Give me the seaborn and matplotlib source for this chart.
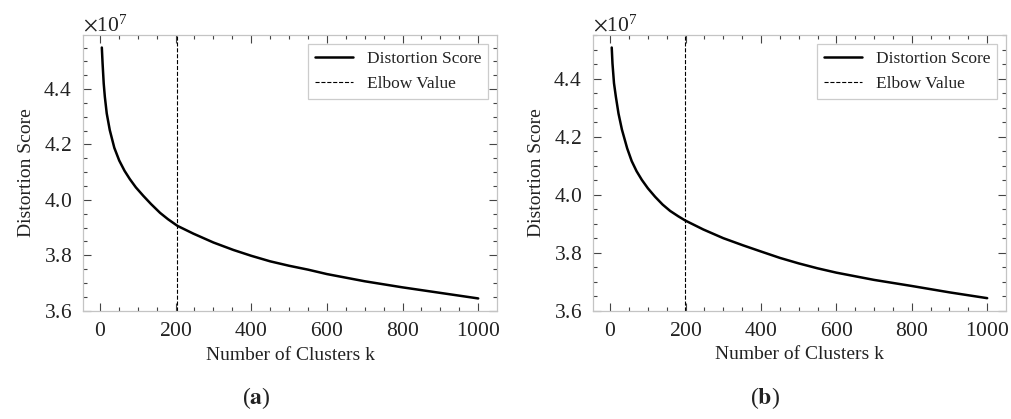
import numpy as np
import pandas as pd
import matplotlib
matplotlib.use("Agg")
import matplotlib.pyplot as plt
import seaborn as sns
from matplotlib.ticker import MultipleLocator

# values (distortion in units of 1e7)
k_a = [5, 7, 10, 13, 18, 26, 38, 51, 65, 79, 95, 115, 135, 159, 180, 205,
       247, 300, 353, 400, 450, 500, 550, 600, 700, 800, 900, 1000]
score_a = [4.550, 4.493, 4.420, 4.372, 4.312, 4.252, 4.188, 4.142, 4.105,
           4.075, 4.045, 4.014, 3.985, 3.953, 3.930, 3.906, 3.878, 3.846,
           3.819, 3.798, 3.778, 3.762, 3.748, 3.732, 3.706, 3.684, 3.664,
           3.644]
elbow_a = 205

k_b = [4, 6, 10, 15, 22, 31, 45, 57, 70, 84, 100, 119, 139, 159, 180, 199,
       247, 300, 353, 400, 450, 500, 550, 600, 700, 800, 900, 1000]
score_b = [4.508, 4.453, 4.385, 4.338, 4.280, 4.225, 4.160, 4.116, 4.081,
           4.051, 4.022, 3.993, 3.966, 3.944, 3.926, 3.911, 3.880, 3.850,
           3.825, 3.804, 3.782, 3.763, 3.746, 3.731, 3.706, 3.685, 3.663,
           3.643]
elbow_b = 199

captions = ["a", "b"]

sns.set_style("ticks")
plt.rcParams["font.family"] = ["Liberation Serif", "DejaVu Serif"]
plt.rcParams["mathtext.fontset"] = "stix"
plt.rcParams["axes.formatter.use_mathtext"] = True
plt.rcParams["text.color"] = "#222222"
plt.rcParams["axes.labelcolor"] = "#222222"
plt.rcParams["xtick.color"] = "#444444"
plt.rcParams["ytick.color"] = "#444444"
plt.rcParams["xtick.labelcolor"] = "#222222"
plt.rcParams["ytick.labelcolor"] = "#222222"

fig = plt.figure(figsize=(10.11, 4.19), dpi=100)
axes_pos = [[0.0821, 0.2578, 0.4095, 0.6587],
            [0.5865, 0.2585, 0.4085, 0.658]]
panels = [(k_a, score_a, elbow_a), (k_b, score_b, elbow_b)]

for i, (ks, scores, elbow) in enumerate(panels):
    ax = fig.add_axes(axes_pos[i])
    df = pd.DataFrame({"k": ks, "score": np.array(scores) * 1e7})
    sns.lineplot(data=df, x="k", y="score", ax=ax, color="black",
                 linewidth=1.8, label="Distortion Score")
    ax.axvline(elbow, color="black", linestyle="--", linewidth=0.8,
               label="Elbow Value")

    ax.xaxis.set_major_locator(MultipleLocator(200))
    ax.xaxis.set_minor_locator(MultipleLocator(50))
    ax.yaxis.set_major_locator(MultipleLocator(0.2e7))
    ax.yaxis.set_minor_locator(MultipleLocator(0.05e7))
    ax.tick_params(which="both", direction="in", top=True, right=True,
                   labelsize=15.5, width=0.8)
    ax.tick_params(which="major", length=6, pad=8)
    ax.tick_params(which="minor", length=3)
    ax.yaxis.get_offset_text().set_fontsize(15.5)
    for sp in ax.spines.values():
        sp.set_color("#c4c4c4")
        sp.set_linewidth(0.9)

    ax.set_xlabel("Number of Clusters k", fontsize=14, labelpad=4)
    ax.set_ylabel("Distortion Score", fontsize=14, labelpad=6)

    leg = ax.legend(loc="upper right", fontsize=12.5, frameon=True,
                    fancybox=False, framealpha=1, borderaxespad=0.5,
                    handlelength=2.2)
    leg.get_frame().set_edgecolor("#cccccc")
    leg.get_frame().set_linewidth(0.9)

    cx = 0.253 if i == 0 else 0.757
    fig.text(cx, 0.05, r"($\mathbf{%s}$)" % captions[i], fontsize=17,
             ha="center", va="center")

fig.savefig("out.png", dpi=100)
